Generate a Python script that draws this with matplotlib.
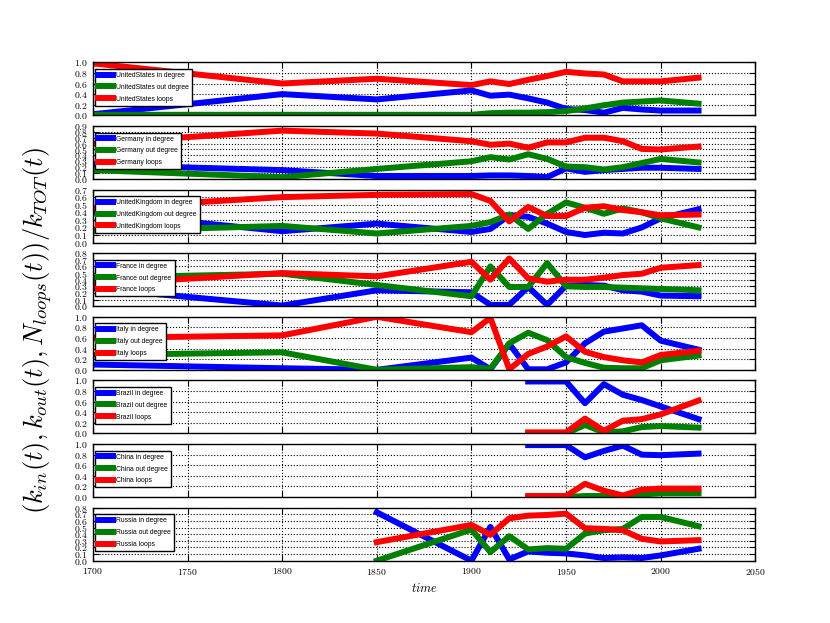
import numpy as np
import matplotlib
matplotlib.use('Agg')
import matplotlib.pyplot as plt
from matplotlib import font_manager

nan = np.nan
years = [1700, 1800, 1850, 1900, 1910, 1920, 1930, 1940, 1950, 1960, 1970, 1980, 1990, 2000, 2020]
countries = ['UnitedStates', 'Germany', 'UnitedKingdom', 'France', 'Italy', 'Brazil', 'China', 'Russia']

us_in    = [0.02, 0.40, 0.30, 0.47, 0.37, 0.39, 0.32, 0.24, 0.12, 0.10, 0.05, 0.14, 0.11, 0.09, 0.09]
us_out   = [0.01, 0.01, 0.01, 0.01, 0.04, 0.05, 0.05, 0.06, 0.08, 0.13, 0.19, 0.24, 0.26, 0.28, 0.22]
us_loops = [0.98, 0.60, 0.69, 0.57, 0.64, 0.59, 0.67, 0.74, 0.82, 0.79, 0.77, 0.64, 0.64, 0.64, 0.71]

de_in    = [0.24, 0.15, 0.05, 0.05, 0.06, 0.06, 0.05, 0.03, 0.18, 0.12, 0.15, 0.17, 0.19, 0.19, 0.17]
de_out   = [0.15, 0.03, 0.17, 0.30, 0.37, 0.33, 0.42, 0.34, 0.21, 0.20, 0.16, 0.20, 0.27, 0.34, 0.28]
de_loops = [0.60, 0.82, 0.77, 0.64, 0.58, 0.60, 0.53, 0.62, 0.62, 0.70, 0.70, 0.64, 0.51, 0.50, 0.55]

uk_in    = [0.40, 0.15, 0.25, 0.14, 0.18, 0.36, 0.34, 0.25, 0.14, 0.10, 0.13, 0.12, 0.20, 0.32, 0.44]
uk_out   = [0.15, 0.22, 0.12, 0.22, 0.27, 0.37, 0.18, 0.38, 0.53, 0.46, 0.38, 0.45, 0.40, 0.32, 0.20]
uk_loops = [0.45, 0.60, 0.63, 0.64, 0.55, 0.28, 0.47, 0.35, 0.35, 0.46, 0.48, 0.43, 0.40, 0.36, 0.37]

fr_in    = [0.27, 0.01, 0.24, 0.21, 0.02, 0.02, 0.29, 0.02, 0.31, 0.32, 0.31, 0.24, 0.22, 0.16, 0.15]
fr_out   = [0.43, 0.49, 0.32, 0.15, 0.60, 0.29, 0.29, 0.65, 0.30, 0.29, 0.29, 0.28, 0.27, 0.26, 0.24]
fr_loops = [0.33, 0.50, 0.45, 0.67, 0.40, 0.72, 0.42, 0.37, 0.40, 0.40, 0.43, 0.47, 0.49, 0.58, 0.62]

it_in    = [0.10, 0.03, 0.00, 0.23, 0.01, 0.49, 0.01, 0.01, 0.14, 0.50, 0.72, 0.78, 0.84, 0.55, 0.38]
it_out   = [0.28, 0.33, 0.00, 0.05, 0.02, 0.50, 0.70, 0.56, 0.24, 0.13, 0.04, 0.03, 0.03, 0.18, 0.27]
it_loops = [0.60, 0.65, 1.00, 0.71, 0.98, 0.01, 0.30, 0.44, 0.63, 0.34, 0.24, 0.18, 0.14, 0.28, 0.36]

br_in    = [nan, nan, nan, nan, nan, nan, 0.98, 0.98, 0.98, 0.57, 0.93, 0.73, 0.63, 0.51, 0.27]
br_out   = [nan, nan, nan, nan, nan, nan, 0.00, 0.00, 0.00, 0.16, 0.02, 0.04, 0.12, 0.14, 0.11]
br_loops = [nan, nan, nan, nan, nan, nan, 0.02, 0.02, 0.02, 0.28, 0.05, 0.24, 0.27, 0.36, 0.62]

cn_in    = [nan, nan, nan, nan, nan, nan, 0.98, 0.98, 0.98, 0.75, 0.87, 0.97, 0.80, 0.79, 0.82]
cn_out   = [nan, nan, nan, nan, nan, nan, 0.00, 0.00, 0.00, 0.02, 0.02, 0.00, 0.05, 0.07, 0.07]
cn_loops = [nan, nan, nan, nan, nan, nan, 0.02, 0.02, 0.02, 0.25, 0.12, 0.03, 0.14, 0.16, 0.16]

ru_in    = [nan, nan, 0.73, 0.00, 0.51, 0.02, 0.14, 0.12, 0.11, 0.08, 0.04, 0.05, 0.04, 0.08, 0.18]
ru_out   = [nan, nan, 0.00, 0.47, 0.13, 0.37, 0.17, 0.19, 0.18, 0.41, 0.46, 0.48, 0.66, 0.66, 0.52]
ru_loops = [nan, nan, 0.28, 0.54, 0.39, 0.64, 0.68, 0.69, 0.71, 0.49, 0.48, 0.46, 0.33, 0.29, 0.31]

series = [
    (us_in, us_out, us_loops),
    (de_in, de_out, de_loops),
    (uk_in, uk_out, uk_loops),
    (fr_in, fr_out, fr_loops),
    (it_in, it_out, it_loops),
    (br_in, br_out, br_loops),
    (cn_in, cn_out, cn_loops),
    (ru_in, ru_out, ru_loops),
]
ylims = [1.0, 0.9, 0.7, 0.8, 1.0, 1.0, 1.0, 0.8]
ysteps = [0.2, 0.1, 0.1, 0.1, 0.2, 0.2, 0.2, 0.1]
xticks = [1700, 1750, 1800, 1850, 1900, 1950, 2000, 2050]

plt.rcParams['font.family'] = 'cmr10'
plt.rcParams['mathtext.fontset'] = 'cm'
plt.rcParams['axes.formatter.use_mathtext'] = True

names = {f.name for f in font_manager.fontManager.ttflist}
if 'Liberation Sans Narrow' in names:
    leg_family, leg_size = 'Liberation Sans Narrow', 5.8
else:
    leg_family, leg_size = 'Liberation Sans', 4.9

fig = plt.figure(figsize=(8.3, 6.23), dpi=100)
axes = fig.subplots(8, 1, sharex=True)
fig.subplots_adjust(left=0.112, right=0.91, top=0.9, bottom=0.1, hspace=0.2)

colors = ['#0000ff', '#008000', '#ff0000']
suffix = [' in degree', ' out degree', ' loops']

for ax, name, ser, ym, ys in zip(axes, countries, series, ylims, ysteps):
    for vals, c, s in zip(ser, colors, suffix):
        ax.plot(years, vals, color=c, lw=4.3, label=name + s)
    ax.set_xlim(1700, 2050)
    ax.set_ylim(0, ym)
    ax.set_yticks(np.round(np.arange(0, ym + 1e-9, ys), 2))
    ax.set_xticks(xticks)
    ax.grid(True, linestyle=':', color='k', lw=0.8)
    ax.tick_params(direction='in', top=True, right=True, labelsize=7, length=4, width=0.8)
    for sp in ax.spines.values():
        sp.set_linewidth(1.0)
        sp.set_color('k')
    leg = ax.legend(loc='upper left', bbox_to_anchor=(0.003, 0.875), borderaxespad=0,
                    prop={'family': leg_family, 'size': leg_size},
                    handlelength=2.2, fancybox=False, framealpha=1, edgecolor='k',
                    borderpad=0.45, labelspacing=0.7, handletextpad=0.5)
    leg.get_frame().set_linewidth(1.0)

axes[-1].set_xlabel(r'$time$', fontsize=9)
fig.text(0.045, 0.47, r'$(k_{in}(t),k_{out}(t),N_{loops}(t))/k_{TOT}(t)$',
         rotation=90, fontsize=19, ha='center', va='center')

fig.savefig('out.png', dpi=100)
